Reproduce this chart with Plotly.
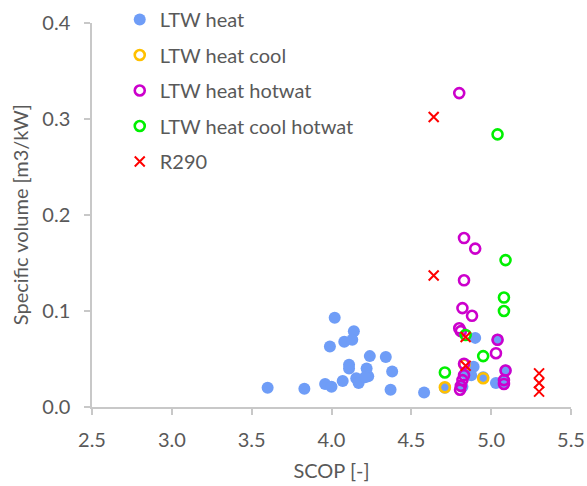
import plotly.graph_objects as go

# ---- data ----
heat_x = [3.60, 3.83, 3.96, 4.00, 4.02, 3.99, 4.07, 4.08, 4.14, 4.13, 4.11, 4.11, 4.155, 4.17,
          4.22, 4.24, 4.23, 4.21, 4.34, 4.38, 4.37, 4.58, 4.90, 5.03, 4.89, 5.04, 5.09, 4.71,
          4.95, 4.82, 4.84, 5.08, 4.875]
heat_y = [0.020, 0.019, 0.024, 0.021, 0.093, 0.063, 0.027, 0.068, 0.079, 0.070, 0.044, 0.040, 0.030, 0.025,
          0.040, 0.053, 0.032, 0.031, 0.052, 0.037, 0.018, 0.015, 0.072, 0.025, 0.042, 0.070, 0.038, 0.020,
          0.031, 0.021, 0.035, 0.026, 0.033]

cool_x = [4.71, 4.95, 4.833]
cool_y = [0.0205, 0.030, 0.044]

hotwat_x = [4.80, 4.83, 4.90, 4.83, 4.82, 4.88, 4.80, 4.81, 5.04, 5.03, 4.83, 5.09, 5.08, 5.08,
            4.83, 4.82, 4.81, 4.805]
hotwat_y = [0.327, 0.176, 0.165, 0.132, 0.103, 0.095, 0.082, 0.079, 0.070, 0.056, 0.045, 0.038, 0.028, 0.024,
            0.033, 0.028, 0.022, 0.018]

coolhot_x = [5.04, 5.09, 5.08, 5.08, 4.84, 4.95, 4.71]
coolhot_y = [0.284, 0.153, 0.114, 0.100, 0.075, 0.053, 0.036]

r290_x = [4.64, 4.64, 4.84, 4.84, 5.30, 5.30, 5.30]
r290_y = [0.302, 0.137, 0.073, 0.043, 0.035, 0.025, 0.016]

x_ticks = [2.5, 3.0, 3.5, 4.0, 4.5, 5.0, 5.5]
y_ticks = [0.0, 0.1, 0.2, 0.3, 0.4]

FONT = "Lato, 'Open Sans', sans-serif"
TXT = "#595959"
AX = "#C8C8C8"
FS = 20

fig = go.Figure()
fig.add_trace(go.Scatter(x=heat_x, y=heat_y, mode="markers", name="LTW heat", legendgroup="a",
                         marker=dict(symbol="circle", size=12, color="#6F9DF7", line=dict(width=0))))
fig.add_trace(go.Scatter(x=cool_x, y=cool_y, mode="markers", name="LTW heat cool", legendgroup="b",
                         marker=dict(symbol="circle-open", size=10, color="#FFC000", line=dict(width=2.6, color="#FFC000"))))
fig.add_trace(go.Scatter(x=hotwat_x, y=hotwat_y, mode="markers", name="LTW heat hotwat", legendgroup="c",
                         marker=dict(symbol="circle-open", size=10, color="#CC00CC", line=dict(width=2.6, color="#CC00CC"))))
fig.add_trace(go.Scatter(x=coolhot_x, y=coolhot_y, mode="markers", name="LTW heat cool hotwat", legendgroup="d",
                         marker=dict(symbol="circle-open", size=10, color="#00F000", line=dict(width=2.6, color="#00F000"))))
fig.add_trace(go.Scatter(x=r290_x, y=r290_y, mode="markers", name="R290", legendgroup="e",
                         marker=dict(symbol="x-thin", size=10, color="#FF0000", line=dict(width=2, color="#FF0000"))))

fig.update_layout(
    width=587, height=486,
    margin=dict(l=92, r=16, t=23, b=79, autoexpand=False),
    paper_bgcolor="white", plot_bgcolor="white",
    font=dict(family=FONT, size=FS, color=TXT),
    legend=dict(xref="container", yref="container", x=0.204, y=1.0, xanchor="left", yanchor="top",
                bgcolor="rgba(0,0,0,0)", borderwidth=0,
                font=dict(family=FONT, size=FS, color=TXT), tracegroupgap=6.5, itemwidth=30),
    showlegend=True,
    annotations=[dict(text="Specific volume [m3/kW]", xref="paper", yref="paper",
                      x=-0.150, y=0.5, xanchor="center", yanchor="middle", textangle=-90,
                      showarrow=False, font=dict(family=FONT, size=FS, color=TXT))],
)
fig.update_xaxes(range=[2.5, 5.5], tickvals=x_ticks, ticktext=[f"{v:.1f}" for v in x_ticks],
                 showgrid=False, zeroline=False, showline=True, linecolor=AX, linewidth=1.5,
                 ticks="outside", ticklen=6, tickcolor=AX, tickwidth=1.5, ticklabelstandoff=8,
                 title=dict(text="SCOP [-]", font=dict(family=FONT, size=FS, color=TXT), standoff=14),
                 tickfont=dict(family=FONT, size=FS, color=TXT))
fig.update_yaxes(range=[0, 0.4], tickvals=y_ticks, ticktext=[f"{v:.1f}" for v in y_ticks],
                 showgrid=False, zeroline=False, showline=True, linecolor=AX, linewidth=1.5,
                 ticks="outside", ticklen=6, tickcolor=AX, tickwidth=1.5, ticklabelstandoff=10,
                 tickfont=dict(family=FONT, size=FS, color=TXT))

fig.write_html("out.html")
